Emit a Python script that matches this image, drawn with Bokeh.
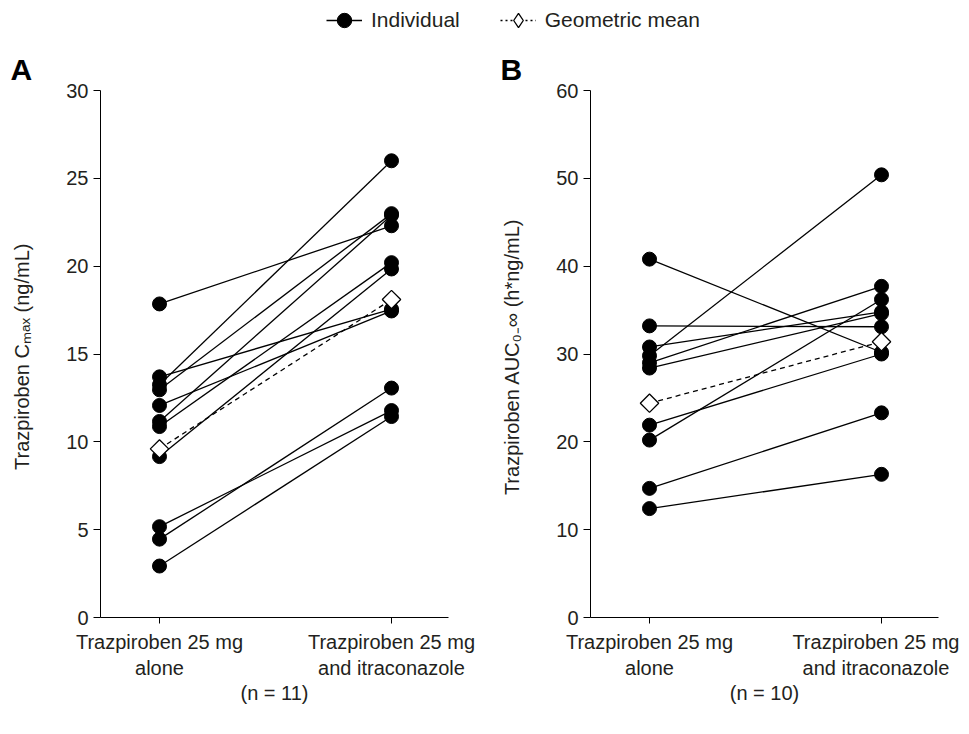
import numpy as np
from bokeh.plotting import figure
from bokeh.layouts import column, row
from bokeh.models import Range1d, FixedTicker, Legend, LegendItem, ColumnDataSource
from bokeh.embed import file_html
from bokeh.resources import INLINE

# ---------------- data ----------------
conditions = ["Trazpiroben 25 mg\nalone", "Trazpiroben 25 mg\nand itraconazole"]

cmax_alone = [17.85, 13.7, 13.25, 12.96, 12.07, 11.16, 10.87, 9.16, 5.17, 4.46, 2.93]
cmax_itra = [22.3, 17.55, 26.0, 22.99, 17.45, 22.9, 20.2, 19.84, 11.78, 13.06, 11.44]
cmax_geo = [9.6, 18.1]

auc_alone = [40.8, 33.2, 30.8, 29.8, 29.0, 28.4, 21.9, 20.2, 14.7, 12.4]
auc_itra = [30.2, 33.1, 34.8, 50.4, 37.7, 34.6, 30.0, 36.2, 23.3, 16.3]
auc_geo = [24.4, 31.4]

cmax_ticks = [0, 5, 10, 15, 20, 25, 30]
auc_ticks = [0, 10, 20, 30, 40, 50, 60]

FONT = "Liberation Sans"
TXT = "#231F20"
FS = "20px"

LEG_H = 43
PANEL_H = 682
TOP = 47
BOTTOM = 108


def make_panel(letter, alone, itra, geo, ticks, ylabel, n_label, width, left_border, right_border):
    ymax = ticks[-1]
    p = figure(width=width, height=PANEL_H, output_backend="svg", toolbar_location=None,
               x_range=Range1d(-59 / 232, 1 + 57 / 232), y_range=Range1d(0, ymax),
               min_border_left=left_border, min_border_right=right_border,
               min_border_top=TOP, min_border_bottom=BOTTOM)
    p.outline_line_color = None
    p.grid.visible = False
    p.background_fill_color = "white"
    p.border_fill_color = "white"

    p.title.text = letter
    p.title.text_font = FONT
    p.title.text_font_size = "30px"
    p.title.text_font_style = "bold"
    p.title.text_color = "black"
    p.title.align = "left"
    p.title.offset = -90
    p.title.standoff = 10

    xpos = list(range(len(conditions)))
    xs = [xpos for _ in alone]
    ys = [[a, b] for a, b in zip(alone, itra)]
    p.multi_line(xs=xs, ys=ys, line_color="black", line_width=1.3)
    pts = ColumnDataSource(dict(x=[xpos[0]] * len(alone) + [xpos[1]] * len(itra),
                                y=list(alone) + list(itra)))
    p.scatter("x", "y", source=pts, marker="circle", size=14,
              fill_color="black", line_color="black")
    p.line(x=xpos, y=geo, line_color="black", line_width=1.3, line_dash="5 4")
    p.scatter(x=xpos, y=geo, marker="square", angle=np.pi / 4, size=13,
              fill_color="white", line_color="black", line_width=1.3)

    ya = p.yaxis[0]
    ya.ticker = FixedTicker(ticks=ticks)
    ya.minor_tick_line_color = None
    ya.major_tick_in = 0
    ya.major_tick_out = 7
    ya.axis_label = ylabel
    ya.axis_label_standoff = 30
    ya.axis_label_text_font = FONT
    ya.axis_label_text_font_size = FS
    ya.axis_label_text_font_style = "normal"
    ya.axis_label_text_color = TXT
    ya.major_label_text_font = FONT
    ya.major_label_text_font_size = FS
    ya.major_label_text_color = TXT
    ya.axis_line_color = "black"
    ya.major_tick_line_color = "black"

    xa = p.xaxis[0]
    xa.ticker = FixedTicker(ticks=xpos)
    xa.major_label_overrides = {i: c for i, c in zip(xpos, conditions)}
    xa.minor_tick_line_color = None
    xa.major_tick_in = 0
    xa.major_tick_out = 6
    xa.major_label_standoff = 7
    xa.axis_label = n_label
    xa.axis_label_standoff = 0
    xa.axis_label_text_font = FONT
    xa.axis_label_text_font_size = FS
    xa.axis_label_text_font_style = "normal"
    xa.axis_label_text_color = TXT
    xa.major_label_text_font = FONT
    xa.major_label_text_font_size = FS
    xa.major_label_text_color = TXT
    xa.axis_line_color = "black"
    xa.major_tick_line_color = "black"
    return p


pA = make_panel("A", cmax_alone, cmax_itra, cmax_geo, cmax_ticks,
                "Trazpiroben C\u2098\u2090\u2093  (ng/mL)", "(n = 11)", 498, 100, 50)
pB = make_panel("B", auc_alone, auc_itra, auc_geo, auc_ticks,
                "Trazpiroben AUC\u2080\u208B\u221E  (h*ng/mL)", "(n = 10)", 461, 92, 21)

# ---------------- legend strip ----------------
leg = figure(width=959, height=LEG_H, output_backend="svg", toolbar_location=None,
             x_range=Range1d(0, 1), y_range=Range1d(0, 1),
             min_border=0, min_border_left=0, min_border_right=0,
             min_border_top=0, min_border_bottom=0)
leg.axis.visible = False
leg.grid.visible = False
leg.outline_line_color = None
dummy = ColumnDataSource(dict(x=[np.nan], y=[np.nan]))
l1 = leg.line("x", "y", source=dummy, line_color="black", line_width=1.5)
m1 = leg.scatter("x", "y", source=dummy, marker="circle", fill_color="black", line_color="black")
l2 = leg.line("x", "y", source=dummy, line_color="black", line_width=1.5, line_dash="2 3")
m2 = leg.scatter("x", "y", source=dummy, marker="diamond",
                 fill_color="white", line_color="black", line_width=1.3)
legend = Legend(items=[LegendItem(label="Individual", renderers=[l1, m1]),
                       LegendItem(label="Geometric mean", renderers=[l2, m2])],
                orientation="horizontal", location=(326, 4),
                glyph_width=36, glyph_height=38, label_standoff=9, spacing=40,
                padding=0, margin=0, border_line_color=None,
                background_fill_alpha=0,
                label_text_font=FONT, label_text_font_size="21px", label_text_color=TXT)
leg.add_layout(legend, "center")

layout = column(leg, row(pA, pB))
open("out.html", "w").write(file_html(layout, INLINE))
